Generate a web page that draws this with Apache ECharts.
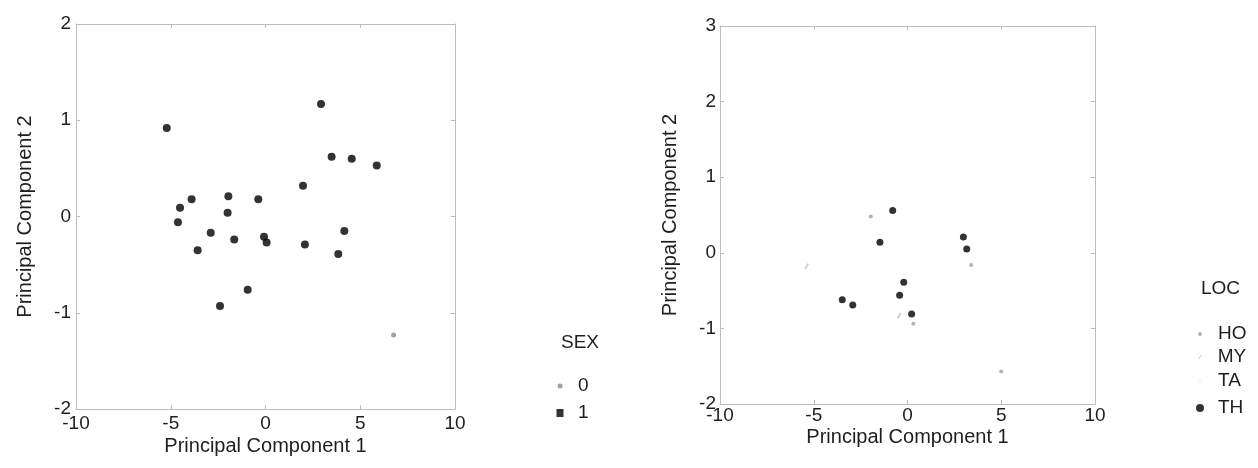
<!DOCTYPE html>
<html>
<head>
<meta charset="utf-8">
<script src="https://cdn.jsdelivr.net/npm/echarts@6/dist/echarts.min.js"></script>
<style>
  html, body { margin: 0; padding: 0; background: #fff; }
  #main { width: 1258px; height: 468px; }
</style>
</head>
<body>
<div id="main"></div>
<script>
    // 左图：SEX 分组
    var sex0Points = [[6.76, -1.23]];
    var sex1Points = [
        [-5.21, 0.92], [2.93, 1.17], [3.49, 0.62], [4.55, 0.60], [5.87, 0.53],
        [1.98, 0.32], [-3.90, 0.18], [-4.51, 0.09], [-4.62, -0.06], [-1.96, 0.21],
        [-2.00, 0.04], [-0.38, 0.18], [-2.89, -0.17], [-1.65, -0.24], [-3.58, -0.35],
        [-0.08, -0.21], [0.06, -0.27], [2.08, -0.29], [4.16, -0.15], [3.84, -0.39],
        [-0.94, -0.76], [-2.40, -0.93]
    ];

    // 右图：LOC 分组
    var locHO = [[-1.96, 0.48], [3.39, -0.16], [5.00, -1.57], [0.31, -0.94]];
    var locMY = [[-5.38, -0.18], [-0.45, -0.83]];
    var locTA = [];
    var locTH = [
        [-0.79, 0.56], [-1.47, 0.14], [-0.20, -0.39], [-0.42, -0.56], [0.22, -0.81],
        [-3.48, -0.62], [-2.92, -0.69], [2.98, 0.21], [3.16, 0.05]
    ];

    var xTicks = [-10, 10, 5];   // min, max, interval
    var yTicksLeft = [-2, 2, 1];
    var yTicksRight = [-2, 3, 1];

    var FONT = "'Liberation Sans', Arial, sans-serif";
    var FS = 19;       // 刻度、图例字号
    var FS_NAME = 20;  // 坐标轴名称字号
    var TXT = "#1e1e1e";
    var AXC = "#bdbdbd";

    /**
     * 生成坐标轴（镜像轴只画刻度）
     */
    function makeAxis(kind, gridIndex, ticks, name, mirror, labelMargin, nameGap) {
        var ax = {
            type: "value",
            gridIndex: gridIndex,
            min: ticks[0],
            max: ticks[1],
            interval: ticks[2],
            axisLine: { show: true, onZero: false, lineStyle: { color: AXC, width: 1 } },
            axisTick: { show: true, inside: true, length: 4, lineStyle: { color: AXC } },
            splitLine: { show: false },
            axisLabel: { show: !mirror, color: TXT, fontSize: FS, fontFamily: FONT, margin: labelMargin || 0 }
        };
        if (mirror) {
            ax.position = kind === "x" ? "top" : "right";
        } else {
            ax.name = name;
            ax.nameLocation = "middle";
            ax.nameMoveOverlap = false;
            ax.nameTextStyle = { color: TXT, fontSize: FS_NAME, fontFamily: FONT };
            ax.nameGap = nameGap;
        }
        return ax;
    }

    /**
     * 单个图例项（每项单独控制图标大小）
     */
    function legendItem(name, icon, w, h, left, top) {
        return {
            data: [{ name: name, icon: icon }],
            left: left - w / 2, top: top - FS / 2 - 1,
            itemWidth: w, itemHeight: h,
            selectedMode: false,
            textStyle: { color: TXT, fontSize: FS, fontFamily: FONT, padding: [0, 0, 0, 13 - w / 2] }
        };
    }

    var chart = echarts.init(document.getElementById("main"));
    var option = {
        backgroundColor: "#fff",
        animation: false,
        title: [
            { text: "SEX", left: 556, top: 328, textStyle: { color: TXT, fontSize: FS, fontWeight: "normal", fontFamily: FONT } },
            { text: "LOC", left: 1196, top: 274, textStyle: { color: TXT, fontSize: FS, fontWeight: "normal", fontFamily: FONT } }
        ],
        grid: [
            { left: 76, top: 24, width: 379, height: 385 },
            { left: 720, top: 26, width: 375, height: 378 }
        ],
        xAxis: [
            makeAxis("x", 0, xTicks, "Principal Component 1", false, 5, 27),
            makeAxis("x", 0, xTicks, "", true),
            makeAxis("x", 1, xTicks, "Principal Component 1", false, 2, 23),
            makeAxis("x", 1, xTicks, "", true)
        ],
        yAxis: [
            makeAxis("y", 0, yTicksLeft, "Principal Component 2", false, 5, 41),
            makeAxis("y", 0, yTicksLeft, "", true),
            makeAxis("y", 1, yTicksRight, "Principal Component 2", false, 4, 40),
            makeAxis("y", 1, yTicksRight, "", true)
        ],
        legend: [
            legendItem("0", "circle", 5, 5, 555, 382),
            legendItem("1", "rect", 7, 8, 555, 409),
            legendItem("HO", "circle", 4, 4, 1195, 330),
            legendItem("MY", "path://M0,6 L4,0 L5,1 L1,7 Z", 4, 5, 1195, 353),
            legendItem("TA", "circle", 4, 4, 1195, 377),
            legendItem("TH", "circle", 8, 8, 1195, 404)
        ],
        series: [
            { name: "0", type: "scatter", xAxisIndex: 0, yAxisIndex: 0, data: sex0Points,
              symbol: "circle", symbolSize: 5, itemStyle: { color: "#8a8a8a" } },
            { name: "1", type: "scatter", xAxisIndex: 0, yAxisIndex: 0, data: sex1Points,
              symbol: "circle", symbolSize: 8, itemStyle: { color: "#000" } },
            { name: "HO", type: "scatter", xAxisIndex: 2, yAxisIndex: 2, data: locHO,
              symbol: "circle", symbolSize: 4, itemStyle: { color: "#a0a0a0" } },
            { name: "MY", type: "scatter", xAxisIndex: 2, yAxisIndex: 2, data: locMY,
              symbol: "rect", symbolSize: [2, 6], symbolRotate: -30, itemStyle: { color: "#c4c4c4" } },
            { name: "TA", type: "scatter", xAxisIndex: 2, yAxisIndex: 2, data: locTA,
              symbol: "circle", symbolSize: 4, itemStyle: { color: "#f4f4f4" } },
            { name: "TH", type: "scatter", xAxisIndex: 2, yAxisIndex: 2, data: locTH,
              symbol: "circle", symbolSize: 7, itemStyle: { color: "#000" } }
        ]
    };
    chart.setOption(option);
</script>
</body>
</html>
